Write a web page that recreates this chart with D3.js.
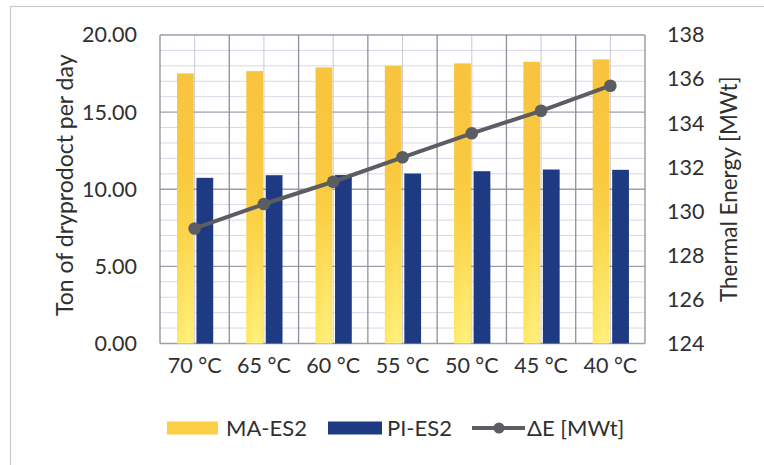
<!DOCTYPE html>
<html>
<head>
<meta charset="utf-8">
<script src="https://cdn.jsdelivr.net/npm/d3@7"></script>
<style>
  html, body { margin: 0; padding: 0; background: #ffffff; }
  svg { display: block; font-family: Lato, "Open Sans", sans-serif; }
</style>
</head>
<body>
<svg id="chart" width="764" height="465"></svg>
<script>
// Outlet temperature categories
const categories = ["70 °C", "65 °C", "60 °C", "55 °C", "50 °C", "45 °C", "40 °C"];
// Dry product output (ton/day)
const maES2 = [17.51, 17.66, 17.90, 18.00, 18.16, 18.26, 18.42];
const piES2 = [10.74, 10.91, 10.92, 11.02, 11.17, 11.28, 11.26];
// Thermal energy difference (MWt)
const deltaE = [129.22, 130.33, 131.34, 132.45, 133.54, 134.56, 135.70];

const seriesNames = ["MA-ES2", "PI-ES2", "ΔE [MWt]"];
const leftTicks = [0, 5, 10, 15, 20];
const rightTicks = [124, 126, 128, 130, 132, 134, 136, 138];

const svg = d3.select("#chart");
const W = 764, H = 465;
const plot = { left: 160, right: 645, top: 35, bottom: 343.5 };

const textColor = "#303030";
const yellowTop = "#f8c23e", yellowBottom = "#ffe95a";
const navy = "#1e3a82";
const lineColor = "#5b5d63";

// outer chart frame
svg.append("rect")
  .attr("x", 10.5).attr("y", 6.5)
  .attr("width", W + 10).attr("height", H + 10)
  .attr("fill", "#ffffff").attr("stroke", "#c9c9c9").attr("stroke-width", 1.2);

// scales
const x = d3.scaleBand().domain(categories).range([plot.left, plot.right]).padding(0);
const bw = x.bandwidth();
const xs = d3.scaleBand().domain(["MA-ES2", "PI-ES2"])
  .range([0.245 * bw, 0.768 * bw]).paddingInner(0.14);
const yL = d3.scaleLinear().domain([0, 20]).range([plot.bottom, plot.top]);
const yR = d3.scaleLinear().domain([124, 138]).range([plot.bottom, plot.top]);

// gradients for yellow bars
const defs = svg.append("defs");
const gY = defs.append("linearGradient").attr("id", "gradYellow")
  .attr("gradientUnits", "userSpaceOnUse")
  .attr("x1", 0).attr("y1", plot.top).attr("x2", 0).attr("y2", plot.bottom);
gY.append("stop").attr("offset", "0%").attr("stop-color", yellowTop);
gY.append("stop").attr("offset", "45%").attr("stop-color", "#f9c940");
gY.append("stop").attr("offset", "100%").attr("stop-color", yellowBottom);
const gH = defs.append("linearGradient").attr("id", "gradShine")
  .attr("x1", 0).attr("y1", 0).attr("x2", 1).attr("y2", 0);
gH.append("stop").attr("offset", "0%").attr("stop-color", "#fff").attr("stop-opacity", 0);
gH.append("stop").attr("offset", "70%").attr("stop-color", "#fff7a0").attr("stop-opacity", 0.45);
gH.append("stop").attr("offset", "100%").attr("stop-color", "#fff").attr("stop-opacity", 0.1);
const gV = defs.append("linearGradient").attr("id", "shineMask")
  .attr("x1", 0).attr("y1", 0).attr("x2", 0).attr("y2", 1);
gV.append("stop").attr("offset", "0%").attr("stop-color", "#fff").attr("stop-opacity", 0);
gV.append("stop").attr("offset", "100%").attr("stop-color", "#fff").attr("stop-opacity", 1);
defs.append("mask").attr("id", "bottomMask").attr("maskContentUnits", "objectBoundingBox")
  .append("rect").attr("x", 0).attr("y", 0).attr("width", 1).attr("height", 1)
  .attr("fill", "url(#shineMask)");

// grid: minor horizontal (every 1 unit)
const g = svg.append("g");
g.selectAll(".hminor").data(d3.range(1, 20).filter(v => v % 5 !== 0)).join("line")
  .attr("x1", plot.left).attr("x2", plot.right)
  .attr("y1", d => yL(d)).attr("y2", d => yL(d))
  .attr("stroke", "#d6d9e6").attr("stroke-width", 1);
// minor vertical at category centres
g.selectAll(".vminor").data(categories).join("line")
  .attr("x1", d => x(d) + bw / 2).attr("x2", d => x(d) + bw / 2)
  .attr("y1", plot.top).attr("y2", plot.bottom)
  .attr("stroke", "#c9cad3").attr("stroke-width", 1);
// major horizontal
g.selectAll(".hmajor").data(leftTicks).join("line")
  .attr("x1", plot.left).attr("x2", plot.right)
  .attr("y1", d => yL(d)).attr("y2", d => yL(d))
  .attr("stroke", "#9c9eac").attr("stroke-width", 1.3);
// major vertical at category boundaries
g.selectAll(".vmajor").data(categories.map(c => x(c)).concat([plot.right])).join("line")
  .attr("x1", d => d).attr("x2", d => d)
  .attr("y1", plot.top).attr("y2", plot.bottom)
  .attr("stroke", "#8e8f99").attr("stroke-width", 1.3);

// bars
const bars = svg.append("g");
bars.selectAll(".ma").data(categories).join("rect")
  .attr("x", (d) => x(d) + xs("MA-ES2"))
  .attr("width", xs.bandwidth())
  .attr("y", (d, i) => yL(maES2[i]))
  .attr("height", (d, i) => yL(0) - yL(maES2[i]))
  .attr("fill", "url(#gradYellow)");
bars.selectAll(".maShine").data(categories).join("rect")
  .attr("x", (d) => x(d) + xs("MA-ES2"))
  .attr("width", xs.bandwidth())
  .attr("y", (d, i) => yL(maES2[i] * 0.45))
  .attr("height", (d, i) => yL(0) - yL(maES2[i] * 0.45))
  .attr("fill", "url(#gradShine)")
  .attr("mask", "url(#bottomMask)");
bars.selectAll(".pi").data(categories).join("rect")
  .attr("x", (d) => x(d) + xs("PI-ES2"))
  .attr("width", xs.bandwidth())
  .attr("y", (d, i) => yL(piES2[i]))
  .attr("height", (d, i) => yL(0) - yL(piES2[i]))
  .attr("fill", navy);

// ΔE line on the secondary axis
const pts = categories.map((c, i) => [x(c) + bw / 2, yR(deltaE[i])]);
svg.append("path")
  .attr("d", d3.line()(pts))
  .attr("fill", "none").attr("stroke", lineColor)
  .attr("stroke-width", 4).attr("stroke-linejoin", "round");
svg.append("g").selectAll("circle").data(pts).join("circle")
  .attr("cx", d => d[0]).attr("cy", d => d[1]).attr("r", 6.3)
  .attr("fill", lineColor);

// left axis
const axL = svg.append("g").attr("transform", `translate(${plot.left},0)`)
  .call(d3.axisLeft(yL).tickValues(leftTicks).tickFormat(d3.format(".2f")).tickSize(0).tickPadding(23));
axL.select(".domain").remove();
axL.selectAll("text").attr("font-size", 21.5).attr("fill", textColor)
  .attr("font-family", "Lato, sans-serif");

// right axis
const axR = svg.append("g").attr("transform", `translate(${plot.right},0)`)
  .call(d3.axisRight(yR).tickValues(rightTicks).tickFormat(d3.format("d")).tickSize(0).tickPadding(22));
axR.select(".domain").remove();
axR.selectAll("text").attr("font-size", 21.5).attr("fill", textColor)
  .attr("font-family", "Lato, sans-serif");

// category axis
const axB = svg.append("g").attr("transform", `translate(0,${plot.bottom})`)
  .call(d3.axisBottom(x).tickSize(0).tickPadding(14));
axB.select(".domain").remove();
axB.selectAll("text").attr("font-size", 21.5).attr("fill", textColor)
  .attr("font-family", "Lato, sans-serif");

// axis titles
svg.append("text")
  .attr("transform", `translate(73,${(plot.top + plot.bottom) / 2 - 4}) rotate(-90)`)
  .attr("text-anchor", "middle").attr("font-size", 23).attr("fill", textColor)
  .text("Ton of dryprodoct per day");
svg.append("text")
  .attr("transform", `translate(737,${(plot.top + plot.bottom) / 2}) rotate(-90)`)
  .attr("text-anchor", "middle").attr("font-size", 22.5).attr("fill", textColor)
  .text("Thermal Energy [MWt]");

// legend
const lg = svg.append("g").attr("font-size", 22).attr("fill", textColor);
const ly = 428;
lg.append("rect").attr("x", 167).attr("y", ly - 6.5).attr("width", 51).attr("height", 13)
  .attr("fill", "#fcce45");
lg.append("text").attr("x", 226).attr("y", ly).attr("dy", "0.35em").text(seriesNames[0]);
lg.append("rect").attr("x", 328).attr("y", ly - 6.5).attr("width", 54).attr("height", 13)
  .attr("fill", navy);
lg.append("text").attr("x", 387).attr("y", ly).attr("dy", "0.35em").text(seriesNames[1]);
lg.append("line").attr("x1", 472).attr("x2", 525).attr("y1", ly).attr("y2", ly)
  .attr("stroke", lineColor).attr("stroke-width", 4);
lg.append("circle").attr("cx", 499).attr("cy", ly).attr("r", 5.5).attr("fill", lineColor);
lg.append("text").attr("x", 527).attr("y", ly).attr("dy", "0.35em").text(seriesNames[2]);
</script>
</body>
</html>
